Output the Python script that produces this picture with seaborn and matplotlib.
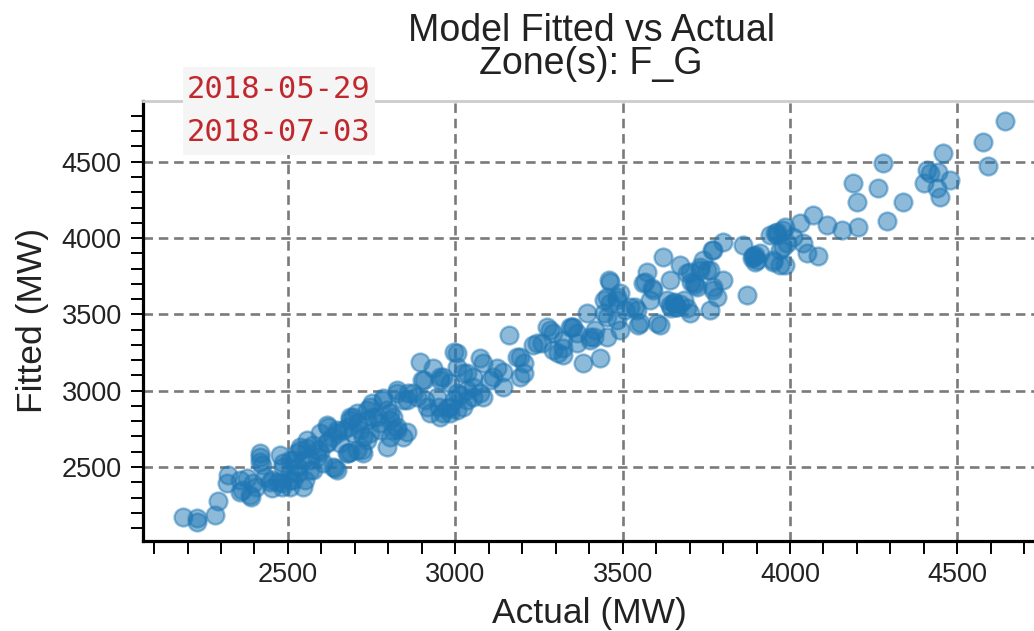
import matplotlib
matplotlib.use("Agg")
import matplotlib.pyplot as plt
import seaborn as sns
import pandas as pd
from matplotlib.ticker import MultipleLocator
from matplotlib.patches import Rectangle

# ---- data: (actual MW, fitted MW) pairs, grouped by range ----
points_2100_2850 = [
    (2187, 2174), (2227, 2164), (2227, 2142), (2282, 2185), (2292, 2279),
    (2322, 2448), (2317, 2393), (2357, 2415), (2377, 2426), (2362, 2349),
    (2386, 2317), (2396, 2393), (2416, 2567), (2421, 2513), (2431, 2436),
    (2451, 2415), (2471, 2404), (2481, 2371), (2476, 2579), (2486, 2524),
    (2506, 2546), (2506, 2459), (2516, 2415), (2506, 2371), (2526, 2590),
    (2531, 2502), (2546, 2546), (2556, 2622), (2551, 2415), (2566, 2480),
    (2576, 2644), (2586, 2567), (2596, 2600), (2606, 2524), (2616, 2666),
    (2621, 2764), (2631, 2699), (2641, 2491), (2646, 2721), (2665, 2742),
    (2680, 2764), (2685, 2600), (2695, 2830), (2710, 2786), (2720, 2611),
    (2725, 2699), (2735, 2873), (2750, 2917), (2765, 2830), (2775, 2742),
    (2785, 2939), (2795, 2633), (2805, 2852), (2815, 2742), (2825, 2983),
]
points_2350_2700 = [
    (2357, 2338), (2391, 2305), (2446, 2404), (2536, 2611), (2646, 2480),
    (2680, 2590), (2406, 2371), (2416, 2590), (2416, 2535), (2451, 2360),
    (2481, 2393), (2486, 2502), (2506, 2415), (2516, 2546), (2531, 2459),
    (2536, 2633), (2546, 2371), (2556, 2677), (2566, 2546), (2576, 2480),
    (2591, 2611), (2596, 2721), (2616, 2775), (2616, 2655), (2636, 2502),
    (2646, 2742), (2656, 2655), (2675, 2590), (2685, 2808), (2695, 2721),
    (2705, 2611),
]
points_2700_3420 = [
    (2725, 2590), (2745, 2721), (2805, 2699), (2855, 2732), (2825, 2764),
    (2735, 2808), (2775, 2786), (2705, 2852), (2745, 2896), (2795, 2873),
    (2815, 2830), (2825, 3004), (2785, 2950), (2845, 2939), (2860, 2983),
    (2885, 2961), (2910, 2939), (2925, 2852), (2955, 2830), (2950, 2896),
    (2975, 2885), (2985, 2852), (3004, 2873), (3024, 2896), (2995, 2939),
    (3014, 2972), (3034, 3004), (3054, 2961), (3074, 2983), (2985, 3048),
    (2964, 3092), (2895, 3190), (2900, 3070), (2934, 3147), (2955, 3092),
    (2995, 3256), (3004, 3245), (3004, 3157), (3034, 3114), (3054, 3092),
    (3074, 3212), (3084, 3179), (3104, 3070), (3124, 3147), (3144, 3124),
    (3144, 3026), (3114, 3092), (3159, 3365), (3184, 3223), (3204, 3179),
    (3194, 3092), (3233, 3299), (3258, 3310), (3273, 3419), (3293, 3267),
    (3308, 3245), (3323, 3278), (3348, 3419), (3363, 3310), (3383, 3179),
    (3393, 3507), (3403, 3354), (3418, 3398),
]
points_2680_3090 = [
    (2685, 2830), (2715, 2742), (2735, 2677), (2755, 2830), (2805, 2808),
    (2825, 2742), (2845, 2699), (2855, 2939), (2875, 2983), (2905, 3070),
    (2915, 2896), (2944, 2961), (2955, 3070), (2964, 2852), (2985, 2896),
    (3004, 2983), (3024, 3114), (3034, 2939), (3054, 3026), (3084, 2961),
]
points_3190_3490 = [
    (3293, 3376), (3343, 3419), (3363, 3376), (3243, 3310), (3323, 3234),
    (3433, 3212), (3403, 3332), (3452, 3354), (3443, 3507), (3463, 3573),
    (3482, 3463), (3482, 3616), (3194, 3223), (3204, 3114),
]
points_3280_4040 = [
    (3283, 3398), (3323, 3332), (3353, 3419), (3413, 3354), (3443, 3594),
    (3458, 3725), (3492, 3398), (3507, 3529), (3537, 3551), (3547, 3430),
    (3572, 3780), (3567, 3715), (3587, 3671), (3582, 3594), (3602, 3442),
    (3612, 3430), (3622, 3878), (3642, 3725), (3652, 3573), (3662, 3551),
    (3672, 3824), (3682, 3594), (3692, 3540), (3702, 3780), (3712, 3703),
    (3722, 3682), (3731, 3813), (3741, 3856), (3751, 3791), (3761, 3529),
    (3771, 3682), (3781, 3616), (3801, 3725), (3771, 3922), (3801, 3977),
    (3871, 3627), (3861, 3955), (3891, 3878), (3900, 3856), (3910, 3900),
    (3950, 3856), (3970, 3824), (3980, 3944), (3955, 4031), (3980, 4053),
    (4010, 4009), (4030, 4097), (4040, 3966),
]
points_3450_4000 = [
    (3462, 3715), (3562, 3703), (3592, 3660), (3632, 3594), (3692, 3769),
    (3731, 3791), (3761, 3791), (3771, 3660), (3652, 3583), (3702, 3507),
    (3895, 3889), (3895, 3845), (3950, 3845), (3960, 4020), (3990, 3966),
    (3766, 3922), (3452, 3616), (3482, 3594), (3492, 3638), (3522, 3551),
    (3542, 3529), (3552, 3442), (3452, 3485), (3640, 3560), (3660, 3550),
    (3670, 3570), (3645, 3540), (3705, 3710), (3715, 3690), (3885, 3870),
    (3890, 3880),
]
points_3940_4650 = [
    (3941, 4020), (3961, 4042), (3985, 4075), (3970, 3922), (3985, 3824),
    (4050, 3900), (4085, 3883), (4070, 4151), (4110, 4086), (4155, 4053),
    (4204, 4075), (4189, 4359), (4199, 4239), (4264, 4330), (4279, 4490),
    (4289, 4114), (4337, 4233), (4408, 4446), (4418, 4424), (4401, 4359),
    (4443, 4435), (4458, 4555), (4448, 4271), (4478, 4381), (4438, 4326),
    (4578, 4632), (4593, 4472), (4643, 4769),
]

title_lines = ["Model Fitted vs Actual", "Zone(s): F_G"]
date_lines = ["2018-05-29", "2018-07-03"]
x_label = "Actual (MW)"
y_label = "Fitted (MW)"

all_points = (points_2100_2850 + points_2350_2700 + points_2700_3420 + points_2680_3090
              + points_3190_3490 + points_3280_4040 + points_3450_4000 + points_3940_4650)
df = pd.DataFrame(all_points, columns=["actual", "fitted"])

# ---- style ----
sns.set_style("ticks")
plt.rcParams["font.family"] = ["Liberation Sans", "DejaVu Sans"]

W, H = 1034, 631
fig = plt.figure(figsize=(W / 100, H / 100), dpi=100)
ax_l, ax_r, ax_t, ax_b = 142.7, 1037.0, 101.0, 540.7
ax = fig.add_axes([ax_l / W, 1 - ax_b / H, (ax_r - ax_l) / W, (ax_b - ax_t) / H])

blue = "#1f77b4"
sns.scatterplot(data=df, x="actual", y="fitted", ax=ax, s=165, color=blue,
                alpha=0.5, edgecolor=blue, linewidth=1.7, zorder=3)

ax.set_xlim(2066, 4738)
ax.set_ylim(2017, 4898)
ax.xaxis.set_major_locator(MultipleLocator(500))
ax.xaxis.set_minor_locator(MultipleLocator(100))
ax.yaxis.set_major_locator(MultipleLocator(500))
ax.yaxis.set_minor_locator(MultipleLocator(100))

ax.set_axisbelow(True)
ax.grid(True, which="major", color="#7a7a7a", linestyle=(0, (3.6, 2.2)), linewidth=1.9)

for side in ("left", "bottom"):
    ax.spines[side].set_color("black")
    ax.spines[side].set_linewidth(2.3)
ax.spines["top"].set_visible(True)
ax.spines["top"].set_color("#cccccc")
ax.spines["top"].set_linewidth(2.0)
ax.spines["right"].set_visible(False)

ax.tick_params(which="both", direction="out", length=9, width=1.4, color="black")
ax.tick_params(which="major", labelsize=19.5, pad=6, labelcolor="#222222")

ax.set_xlabel(x_label, fontsize=25.5, labelpad=7, color="#222222")
ax.set_ylabel(y_label, fontsize=25.5, labelpad=9, color="#222222")

# title (two lines, centered, tight line spacing as in the reference);
# baseline alignment refers to the last line here
fig.text(591 / W, 1 - 74 / H, "\n".join(title_lines), ha="center", va="baseline",
         multialignment="center", linespacing=0.9, fontsize=27, color="#222222")

# date range box
fig.add_artist(Rectangle((183 / W, 1 - 155 / H), 192 / W, 88 / H,
                         transform=fig.transFigure, facecolor="#f5f5f5",
                         edgecolor="none", zorder=10))
fig.text(279 / W, 1 - 98 / H, date_lines[0], ha="center", va="baseline",
         fontsize=22, family=["DejaVu Sans Mono"], color="#c0282d", zorder=11)
fig.text(279 / W, 1 - 141 / H, date_lines[1], ha="center", va="baseline",
         fontsize=22, family=["DejaVu Sans Mono"], color="#c0282d", zorder=11)

fig.savefig("out.png", dpi=100)
